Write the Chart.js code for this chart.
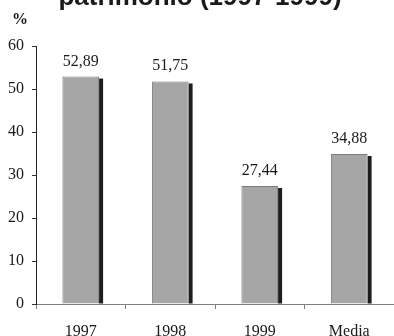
<!DOCTYPE html>
<html>
<head>
<meta charset="utf-8">
<script src="https://cdn.jsdelivr.net/npm/chart.js@4/dist/chart.umd.min.js"></script>
<style>
  html, body { margin: 0; padding: 0; background: #fff; overflow: hidden; }
  #grafico { display: block; }
</style>
</head>
<body>
<canvas id="grafico" width="394" height="336"></canvas>
<script>
// datos del grafico
const anios = ['1997', '1998', '1999', 'Media'];
const porcentajes = [52.89, 51.75, 27.44, 34.88];
const ticksY = [0, 10, 20, 30, 40, 50, 60];

const titulo = 'patrimonio (1997-1999)';
const unidad = '%';

const serif = "'Liberation Serif', 'Times New Roman', serif";

// sombra negra a la derecha de cada barra
const sombraBarras = {
    id: 'sombraBarras',
    beforeDatasetsDraw(chart) {
        const ctx = chart.ctx;
        const meta = chart.getDatasetMeta(0);
        ctx.save();
        ctx.fillStyle = '#1e1e1e';
        meta.data.forEach(function (barra) {
            const p = barra.getProps(['x', 'y', 'base', 'width'], true);
            ctx.fillRect(p.x + p.width / 2, p.y + 2, 4, p.base - p.y - 2);
        });
        ctx.restore();
    }
};

// valores encima de las barras, titulo y unidad
const etiquetas = {
    id: 'etiquetas',
    afterDatasetsDraw(chart) {
        const ctx = chart.ctx;
        const meta = chart.getDatasetMeta(0);
        ctx.save();
        ctx.fillStyle = '#1a1a1a';
        ctx.font = '16px ' + serif;
        ctx.textAlign = 'center';
        ctx.textBaseline = 'alphabetic';
        meta.data.forEach(function (barra, i) {
            const texto = porcentajes[i].toFixed(2).replace('.', ',');
            ctx.fillText(texto, barra.x, barra.y - 11);
        });

        ctx.font = 'bold 16px ' + serif;
        ctx.fillText(unidad, 20, 24);

        ctx.font = "bold 26px 'Liberation Sans', Arial, sans-serif";
        ctx.fillText(titulo, 200, 5);
        ctx.restore();
    }
};

new Chart(document.getElementById('grafico'), {
    type: 'bar',
    data: {
        labels: anios,
        datasets: [{
            data: porcentajes,
            backgroundColor: '#a6a6a6',
            borderColor: '#7c7c7c',
            borderWidth: 1,
            categoryPercentage: 0.41,
            barPercentage: 1
        }]
    },
    options: {
        responsive: false,
        animation: false,
        layout: { padding: { top: 46, right: 0, left: 0, bottom: 0 } },
        plugins: {
            legend: { display: false },
            tooltip: { enabled: false },
            title: { display: false }
        },
        scales: {
            x: {
                grid: {
                    drawOnChartArea: false,
                    tickLength: 5,
                    color: '#808080'
                },
                border: { color: '#808080', width: 1 },
                ticks: {
                    color: '#1a1a1a',
                    font: { family: serif, size: 16 },
                    padding: 13,
                    maxRotation: 0
                },
                afterFit(escala) { escala.height = 32; }
            },
            y: {
                min: 0,
                max: 60,
                afterBuildTicks(escala) {
                    escala.ticks = ticksY.map(v => ({ value: v }));
                },
                grid: {
                    drawOnChartArea: false,
                    tickLength: 4,
                    color: '#333'
                },
                border: { color: '#222', width: 1 },
                ticks: {
                    color: '#1a1a1a',
                    font: { family: serif, size: 16 },
                    padding: 8
                },
                afterFit(escala) { escala.width = 36; }
            }
        }
    },
    plugins: [sombraBarras, etiquetas]
});
</script>
</body>
</html>
